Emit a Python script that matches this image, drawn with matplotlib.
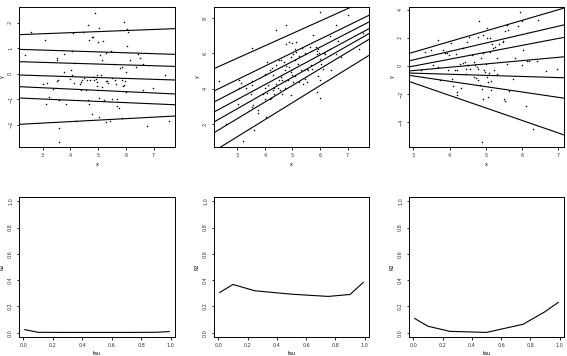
import numpy as np
import matplotlib
matplotlib.use("Agg")
import matplotlib.pyplot as plt

params = {
    'font.size': 3.5,
    'axes.linewidth': 0.7,
    'xtick.major.size': 1.8,
    'ytick.major.size': 1.8,
    'xtick.major.width': 0.6,
    'ytick.major.width': 0.6,
    'xtick.major.pad': 2.5,
    'ytick.major.pad': 2.5,
    'lines.linewidth': 0.8,
}
plt.rcParams.update(params)

taus = [0.01, 0.1, 0.25, 0.5, 0.75, 0.9, 0.99]

# ---- panel 1 data
x1 = [2.59, 3.08, 2.36, 3.50, 3.50, 3.78, 4.05, 4.14, 4.47, 4.11, 4.62, 4.67, 4.77, 4.83, 4.89,
      4.98, 5.16, 5.04, 5.07, 5.13, 5.28, 5.45, 5.57, 5.79, 5.85, 5.93, 6.03, 6.09, 6.05, 6.00,
      6.15, 6.36, 6.45, 6.51, 6.63, 7.41, 3.00, 3.17, 3.54, 3.53, 3.36, 3.77, 4.01, 4.05, 3.97,
      4.14, 4.38, 4.41, 4.35, 4.49, 4.61, 4.71, 4.80, 4.86, 4.95, 5.09, 4.91, 4.95, 4.97, 5.01,
      5.13, 5.28, 5.33, 5.37, 5.49, 5.61, 5.64, 5.85, 5.97, 5.93, 5.91, 5.99, 6.63, 6.99, 3.24,
      3.12, 3.60, 3.83, 4.26, 4.38, 4.55, 4.65, 4.68, 4.77, 5.02, 5.50, 5.69, 5.67, 5.75, 5.87,
      5.03, 5.28, 5.43, 4.20, 3.59, 3.60, 6.75, 7.55, 5.22]
y1 = [1.63, 1.31, 0.72, 0.63, 0.52, 0.78, 0.89, 0.43, 1.63, 1.61, 1.91, 1.33, 1.44, 1.44, 2.39,
      1.24, 1.28, 1.80, 0.72, 0.52, 0.82, 0.89, 0.39, 0.22, 0.26, 2.03, 1.74, 1.63, 1.07, 0.07,
      0.52, 0.26, 0.78, 0.63, 0.39, -0.05, -0.42, -0.37, -0.26, -0.29, -0.59, 0.07, 0.16, -0.07, -0.21,
      -0.37, -0.31, -0.26, -0.39, -0.18, -0.24, -0.26, -0.13, -0.26, -0.07, -0.07, -0.20, -0.33, -0.50, -0.63,
      -0.52, -0.29, -0.29, -0.35, -0.16, -0.26, -0.42, -0.26, -0.30, -0.43, -0.50, -0.72, -0.65, -0.55, -0.92,
      -1.18, -1.02, -1.20, -1.02, -0.63, -0.65, -1.02, -1.20, -1.57, -0.94, -0.98, -0.98, -1.28, -1.36, -1.73,
      -1.70, -1.91, -1.86, -1.87, -2.12, -2.68, -2.07, -1.86, -1.02]
b0_1 = [-2.112, -0.854, -0.400, 0.023, 0.541, 1.029, 1.439]
b1_1 = [0.058, -0.047, -0.051, -0.035, -0.033, -0.035, 0.042]

# ---- panel 2 data
x2 = [2.35, 3.07, 3.13, 3.31, 3.06, 3.52, 3.52, 3.49, 3.58, 3.55, 3.76, 3.76, 3.60, 3.01, 2.59,
      3.22, 3.52, 4.06, 4.39, 4.76, 4.78, 4.87, 4.99, 5.14, 5.08, 5.14, 5.02, 4.94, 5.08, 5.24,
      5.35, 5.45, 5.63, 5.75, 5.84, 5.93, 5.90, 5.96, 5.88, 5.99, 6.17, 6.14, 6.35, 6.37, 6.59,
      6.65, 6.77, 7.01, 7.40, 7.55, 5.99, 4.00, 4.18, 4.27, 4.28, 4.39, 4.52, 4.60, 4.70, 4.72,
      4.76, 4.87, 4.96, 4.94, 5.00, 5.08, 5.20, 5.30, 5.42, 5.51, 5.57, 5.66, 5.71, 5.45, 5.51,
      5.39, 5.24, 5.02, 4.82, 4.72, 4.63, 4.58, 4.52, 4.42, 4.34, 4.28, 4.12, 4.02, 3.94, 4.06,
      4.18, 4.22, 4.34, 4.48, 4.54, 4.63, 4.72, 4.96, 4.00, 4.04, 5.93, 5.99, 5.90, 5.99, 6.41,
      6.11, 6.05, 6.59]
y2 = [4.42, 4.51, 4.32, 4.06, 4.06, 4.42, 4.19, 3.68, 3.06, 2.96, 2.77, 2.62, 1.64, 3.15, 1.98,
      1.02, 6.30, 5.51, 7.30, 7.58, 6.55, 6.64, 6.58, 6.64, 6.26, 6.08, 5.94, 5.79, 5.60, 5.83,
      6.30, 6.02, 6.36, 7.06, 6.36, 6.26, 6.11, 6.02, 5.98, 5.70, 5.98, 6.02, 6.26, 6.96, 7.58,
      6.70, 5.79, 8.15, 6.26, 7.17, 8.34, 4.85, 5.04, 5.17, 4.75, 5.36, 5.64, 5.64, 5.51, 5.08,
      5.28, 5.23, 5.04, 4.94, 4.75, 4.70, 5.42, 5.08, 5.04, 5.13, 5.04, 5.32, 5.13, 4.57, 4.38,
      4.28, 4.38, 4.38, 4.47, 4.43, 4.47, 4.66, 4.51, 4.28, 4.04, 3.91, 4.19, 4.06, 3.72, 3.75,
      3.43, 3.49, 3.68, 4.06, 3.91, 3.72, 4.06, 3.66, 3.43, 2.40, 4.70, 4.47, 3.81, 3.49, 5.08,
      5.13, 5.42, 5.98]
b0_2 = [-1.614, -0.521, 0.192, 0.867, 1.505, 2.222, 3.620]
b1_2 = [0.965, 0.941, 0.891, 0.840, 0.807, 0.763, 0.701]

# ---- panel 3 data
x3 = [3.21, 3.32, 3.49, 3.55, 3.67, 3.69, 3.74, 3.81, 3.87, 3.92, 3.95, 3.97, 4.04, 4.06, 4.09,
      4.15, 4.18, 4.20, 4.21, 4.29, 4.31, 4.36, 4.38, 4.43, 4.45, 4.45, 4.47, 4.49, 4.52, 4.54,
      4.61, 4.66, 4.70, 4.73, 4.75, 4.77, 4.79, 4.82, 4.84, 4.86, 4.89, 4.91, 4.93, 4.96, 4.98,
      5.00, 5.02, 5.04, 5.04, 5.07, 5.07, 5.10, 5.11, 5.11, 5.13, 5.13, 5.16, 5.19, 5.23, 5.25,
      5.30, 5.30, 5.37, 5.46, 5.48, 5.50, 5.53, 5.53, 5.57, 5.59, 5.62, 5.65, 5.76, 5.80, 5.90,
      5.94, 5.99, 6.01, 6.03, 6.11, 6.14, 6.13, 6.20, 6.29, 6.40, 6.45, 6.65, 6.97, 4.89, 4.56,
      4.20, 4.93, 4.77, 4.66]
y3 = [-0.31, 1.01, 1.13, 0.05, 1.85, -0.07, -0.98, 1.13, 0.89, 0.89, -0.26, 0.77, 1.65, -0.96, -1.44,
      -0.31, 0.82, -1.87, -2.04, 0.17, -1.56, 1.25, 0.22, 0.29, -0.19, -0.55, 0.05, 1.73, 0.05, 2.09,
      0.77, 0.29, 0.05, -0.84, -0.07, 2.04, -1.03, 3.17, -1.39, 0.53, -1.63, -2.35, 0.89, -0.31, -0.43,
      0.17, 2.69, -0.79, 1.97, -1.15, -2.23, -0.50, 1.97, 1.01, -1.75, -1.08, 1.56, 1.25, -0.31, 1.37,
      0.53, -0.55, 1.56, 1.80, 1.73, -2.35, 2.49, -2.47, 0.17, 2.93, 2.57, -1.80, -0.91, 0.53, 2.85,
      3.84, 0.05, 3.17, 1.13, -2.83, 0.36, 2.33, 0.36, -4.51, 0.36, 3.29, -0.36, -0.19, -5.42, -0.19,
      -0.31, 2.21, -0.19, -0.79]
b0_3 = [1.465, 0.427, -0.278, -1.039, -1.493, -1.368, -1.293]
b1_3 = [-0.892, -0.381, -0.079, 0.236, 0.493, 0.600, 0.757]

# ---- R2 by tau
r2_1 = [0.023, 0.003, 0.002, 0.002, 0.002, 0.003, 0.008]
r2_2 = [0.306, 0.367, 0.319, 0.293, 0.276, 0.291, 0.383]
r2_3 = [0.108, 0.049, 0.010, 0.002, 0.064, 0.160, 0.231]

W, H = 567.0, 356.0
fig = plt.figure(figsize=(W / 100, H / 100), dpi=100)

def px_axes(x0, y0, x1_, y1_):
    return fig.add_axes([x0 / W, 1 - y1_ / H, (x1_ - x0) / W, (y1_ - y0) / H])

def style(ax):
    for s in ax.spines.values():
        s.set_color('black')
    ax.tick_params(direction='out', colors='black', labelcolor='#333333')
    ax.tick_params(axis='y', labelrotation=90)
    for lab in ax.get_yticklabels():
        lab.set_verticalalignment('center')

top = [(19, 175, x1, y1, b0_1, b1_1, (2.147, 7.769), (-2.876, 2.614), [3, 4, 5, 6, 7], [-2, -1, 0, 1, 2]),
       (214, 369, x2, y2, b0_2, b1_2, (2.157, 7.771), (0.70, 8.62), [3, 4, 5, 6, 7], [2, 4, 6, 8]),
       (409, 564, x3, y3, b0_3, b1_3, (2.88, 7.156), (-5.78, 4.20), [3, 4, 5, 6, 7], [-4, -2, 0, 2, 4])]

for left, right, xs, ys, b0, b1, xl, yl, xt, yt in top:
    ax = px_axes(left, 7, right, 147)
    ax.scatter(xs, ys, s=1.2, c='black', linewidths=0)
    xx = np.array(xl)
    for a, b in zip(b0, b1):
        ax.plot(xx, a + b * xx, color='black', lw=0.8)
    ax.set_xlim(xl)
    ax.set_ylim(yl)
    ax.set_xticks(xt)
    ax.set_yticks(yt)
    ax.set_xlabel('x', labelpad=3)
    ax.set_ylabel('y', labelpad=2.5)
    style(ax)

bottom = [(19, 175, r2_1), (214, 369, r2_2), (409, 564, r2_3)]
for left, right, r2 in bottom:
    ax = px_axes(left, 197, right, 337)
    ax.plot(taus, r2, color='black', lw=0.8)
    ax.set_xlim(-0.029, 1.029)
    ax.set_ylim(-0.033, 1.033)
    ax.set_xticks([0, 0.2, 0.4, 0.6, 0.8, 1.0])
    ax.set_yticks([0, 0.2, 0.4, 0.6, 0.8, 1.0])
    ax.set_xticklabels(['0.0', '0.2', '0.4', '0.6', '0.8', '1.0'])
    ax.set_yticklabels(['0.0', '0.2', '0.4', '0.6', '0.8', '1.0'])
    ax.set_xlabel('tau', labelpad=2.5)
    ax.set_ylabel('R2', labelpad=2.5)
    style(ax)

fig.savefig('out.png', dpi=100)
